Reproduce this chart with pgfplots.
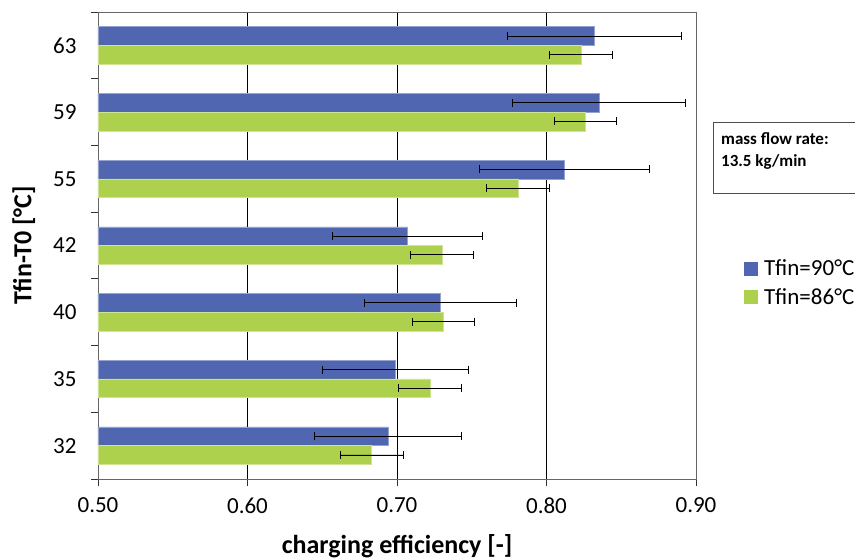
\documentclass[border=0pt]{standalone}
\usepackage{fontspec}
\setmainfont{Carlito}
\usepackage{pgfplots}
\pgfplotsset{compat=1.18}
\definecolor{cblue}{HTML}{5066B0}
\definecolor{cgreen}{HTML}{ADD04D}
\begin{document}
\begin{tikzpicture}[x=1pt,y=1pt]
\path[use as bounding box, clip] (0,0) rectangle (855,560);
\begin{axis}[
  at={(98pt,81pt)}, anchor=south west,
  width=598pt, height=467pt, scale only axis,
  xbar, bar width=0.28,
  xmin=0.5, xmax=0.9, ymin=-0.5, ymax=6.5,
  xtick={0.5,0.6,0.7,0.8,0.9},
  xticklabels={0.50,0.60,0.70,0.80,0.90},
  ytick={-0.5,0.5,1.5,2.5,3.5,4.5,5.5,6.5},
  yticklabels={32,35,40,42,55,59,63,{}},
  yticklabel style={yshift=33.35pt, xshift=-11pt},
  xticklabel style={yshift=-8pt},
  xtick pos=bottom, ytick pos=left,
  tick label style={font=\fontsize{23}{27}\selectfont},
  xmajorgrids, major grid style={black, line width=0.8pt},
  tick align=outside, major tick length=7pt,
  tick style={black!80, line width=0.8pt},
  axis line style={black!60, line width=0.9pt},
  xlabel={\bfseries charging efficiency [-]},
  ylabel={\bfseries Tfin-T0 [°C]},
  label style={font=\fontsize{26}{30}\selectfont},
  xlabel style={at={(axis description cs:0.5,-0.1435)}, anchor=center},
  ylabel style={at={(axis description cs:-0.124,0.5)}, anchor=center},
  legend style={at={(1.08,0.42)}, anchor=west, draw=none, fill=none, inner sep=0pt,
    font=\fontsize{23}{27}\selectfont, row sep=7pt},
  legend cell align=left,
  legend image code/.code={\fill[#1, draw=none] (0pt,-7pt) rectangle (14pt,7pt); \path[draw=none, fill=none] (0pt,0pt) rectangle (18pt,0.1pt);},
]
\addplot[xbar, bar shift=0.14, fill=cblue, draw=cblue!60!white,
  error bars/.cd, x dir=both, x explicit,
  error bar style={black, line width=0.8pt},
  error mark options={black, mark size=4pt, line width=0.8pt, rotate=90}]
coordinates {
 (0.694,0) +- (0.049,0)
 (0.699,1) +- (0.049,0)
 (0.729,2) +- (0.051,0)
 (0.707,3) +- (0.050,0)
 (0.812,4) +- (0.057,0)
 (0.835,5) +- (0.058,0)
 (0.832,6) +- (0.058,0)
};
\addlegendentry{Tfin=90°C}
\addplot[xbar, bar shift=-0.14, fill=cgreen, draw=cgreen!60!white,
  error bars/.cd, x dir=both, x explicit,
  error bar style={black, line width=0.8pt},
  error mark options={black, mark size=4pt, line width=0.8pt, rotate=90}]
coordinates {
 (0.683,0) +- (0.021,0)
 (0.722,1) +- (0.021,0)
 (0.731,2) +- (0.021,0)
 (0.730,3) +- (0.021,0)
 (0.781,4) +- (0.021,0)
 (0.826,5) +- (0.021,0)
 (0.823,6) +- (0.021,0)
};
\addlegendentry{Tfin=86°C}
\end{axis}
\draw[black!70, line width=0.8pt] (713,367) rectangle (875,438);
\node[anchor=west, inner sep=0pt, font=\bfseries\fontsize{17}{20}\selectfont] at (721,421) {mass flow rate:};
\node[anchor=west, inner sep=0pt, font=\bfseries\fontsize{17}{20}\selectfont] at (721,398) {13.5 kg/min};
\end{tikzpicture}
\end{document}
